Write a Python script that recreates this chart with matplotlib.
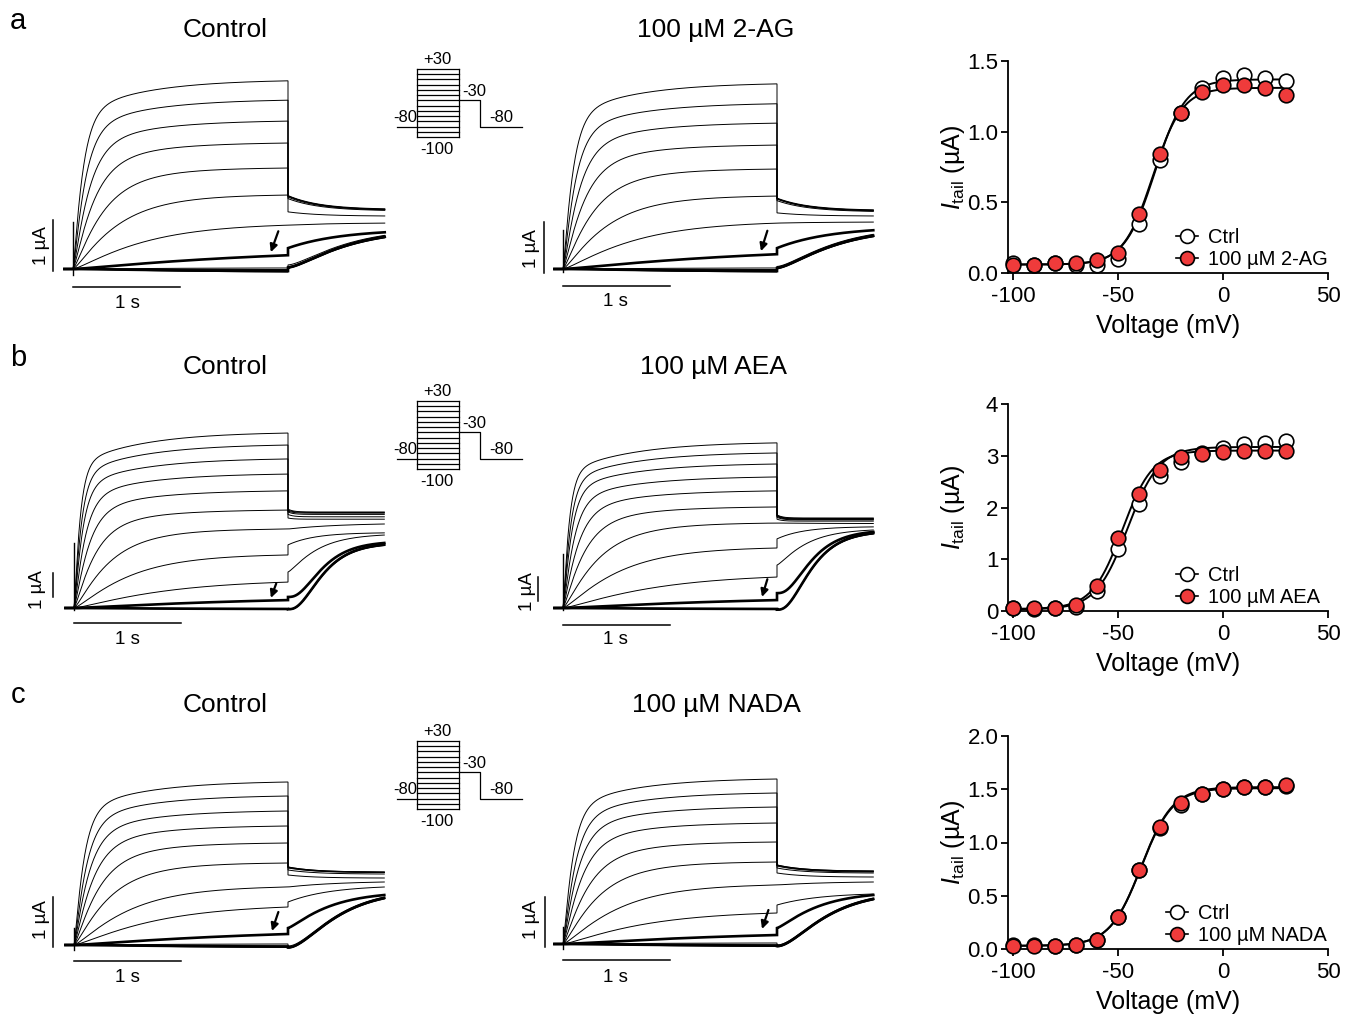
import numpy as np
import matplotlib
matplotlib.use('Agg')
import matplotlib.pyplot as plt
from matplotlib.lines import Line2D

plt.rcParams['font.family'] = ['Liberation Sans', 'DejaVu Sans']
plt.rcParams['mathtext.fontset'] = 'custom'
plt.rcParams['mathtext.rm'] = 'Liberation Sans'
plt.rcParams['mathtext.it'] = 'Liberation Sans:italic'
plt.rcParams['axes.unicode_minus'] = False

# ---------------------------------------------------------------- data
VOLT = [-100, -90, -80, -70, -60, -50, -40, -30, -20, -10, 0, 10, 20, 30]
STEP_MV = [30, 20, 10, 0, -10, -20, -30, -40, -50, -60, -70, -80, -90, -100]

# I-V (tail current, uA)
A_CTRL = [0.07, 0.06, 0.07, 0.06, 0.06, 0.10, 0.35, 0.80, 1.13, 1.31, 1.38, 1.40, 1.38, 1.36]
A_DRUG = [0.06, 0.06, 0.07, 0.07, 0.09, 0.14, 0.42, 0.84, 1.13, 1.28, 1.33, 1.33, 1.31, 1.26]
B_CTRL = [0.05, 0.04, 0.05, 0.08, 0.38, 1.20, 2.07, 2.60, 2.87, 3.05, 3.15, 3.22, 3.25, 3.28]
B_DRUG = [0.06, 0.05, 0.06, 0.12, 0.49, 1.41, 2.27, 2.73, 2.97, 3.04, 3.08, 3.10, 3.10, 3.10]
C_CTRL = [0.04, 0.04, 0.03, 0.04, 0.08, 0.30, 0.74, 1.14, 1.35, 1.46, 1.50, 1.52, 1.52, 1.53]
C_DRUG = [0.03, 0.03, 0.03, 0.04, 0.08, 0.30, 0.74, 1.15, 1.37, 1.46, 1.50, 1.52, 1.52, 1.54]

# Boltzmann fits: Imin, Imax, V1/2, k
A_CTRL_FIT = [0.06, 1.37, -32.5, 7.2]
A_DRUG_FIT = [0.06, 1.31, -33.5, 7.0]
B_CTRL_FIT = [0.03, 3.17, -45.5, 7.5]
B_DRUG_FIT = [0.04, 3.10, -48.0, 7.2]
C_CTRL_FIT = [0.03, 1.51, -39.0, 7.5]
C_DRUG_FIT = [0.03, 1.52, -39.0, 7.5]

# Current traces (order: +30 ... -100 mV), uA
A_CTRL_PLATEAU = [3.69, 3.31, 2.90, 2.47, 1.98, 1.45, 0.86, 0.27, 0.02, -0.01, -0.03, -0.04, -0.05, -0.06]
A_CTRL_TAIL0 = [1.41, 1.43, 1.44, 1.43, 1.38, 1.12, 0.86, 0.41, 0.08, 0.05, 0.04, 0.03, 0.02, 0.02]
A_CTRL_TAIL1 = [1.16, 1.17, 1.18, 1.17, 1.15, 1.04, 0.90, 0.72, 0.66, 0.65, 0.64, 0.63, 0.62, 0.61]
A_DRUG_PLATEAU = [3.63, 3.24, 2.86, 2.43, 1.96, 1.43, 0.90, 0.29, 0.02, -0.01, -0.03, -0.04, -0.05, -0.06]
A_DRUG_TAIL0 = [1.37, 1.38, 1.39, 1.38, 1.34, 1.10, 0.90, 0.41, 0.05, 0.04, 0.03, 0.02, 0.01, 0.01]
A_DRUG_TAIL1 = [1.14, 1.15, 1.16, 1.15, 1.13, 1.04, 0.92, 0.76, 0.68, 0.67, 0.66, 0.65, 0.64, 0.63]
A_TAU_ACT = [0.08, 0.10, 0.13, 0.17, 0.24, 0.35, 0.60, 2.0, 1.0, 1.0, 1.0, 1.0, 1.0, 1.0]
A_TAU_TAIL = [0.30, 0.30, 0.30, 0.30, 0.30, 0.30, 0.50, 0.50, 0.45, 0.45, 0.45, 0.45, 0.45, 0.45]
A_P_TAIL = [1, 1, 1, 1, 1, 1, 1, 1, 1.6, 1.6, 1.6, 1.6, 1.6, 1.6]

B_CTRL_PLATEAU = [7.29, 6.79, 6.21, 5.58, 4.88, 4.08, 3.29, 2.21, 1.08, 0.33, -0.02, -0.04, -0.05, -0.06]
B_CTRL_TAIL0 = [4.12, 4.08, 4.04, 4.00, 3.90, 3.75, 3.29, 2.63, 1.50, 0.46, -0.04, -0.05, -0.06, -0.07]
B_CTRL_TAIL1 = [4.00, 3.98, 3.95, 3.90, 3.80, 3.70, 3.50, 3.13, 3.04, 2.71, 2.66, 2.64, 2.62, 2.60]
B_DRUG_PLATEAU = [6.88, 6.46, 6.00, 5.46, 4.88, 4.21, 3.54, 2.50, 1.29, 0.33, -0.02, -0.04, -0.05, -0.06]
B_DRUG_TAIL0 = [3.88, 3.86, 3.84, 3.82, 3.78, 3.70, 3.54, 2.88, 1.79, 0.62, -0.06, -0.07, -0.08, -0.08]
B_DRUG_TAIL1 = [3.75, 3.73, 3.71, 3.69, 3.67, 3.62, 3.52, 3.38, 3.25, 3.17, 3.13, 3.12, 3.10, 3.08]
B_TAU_ACT = [0.05, 0.06, 0.07, 0.09, 0.12, 0.17, 0.28, 0.45, 0.80, 2.0, 1.0, 1.0, 1.0, 1.0]
B_TAU_TAIL = [0.05, 0.05, 0.05, 0.05, 0.05, 0.05, 0.50, 0.25, 0.25, 0.20, 0.20, 0.20, 0.20, 0.20]
B_P_TAIL = [1, 1, 1, 1, 1, 1, 1, 1, 1.3, 3, 3, 3, 3, 3]

C_CTRL_PLATEAU = [3.26, 2.98, 2.68, 2.38, 2.04, 1.64, 1.16, 0.76, 0.22, 0.02, -0.02, -0.03, -0.04, -0.05]
C_CTRL_TAIL0 = [1.56, 1.56, 1.55, 1.54, 1.50, 1.40, 1.16, 0.86, 0.34, -0.02, -0.04, -0.05, -0.06, -0.06]
C_CTRL_TAIL1 = [1.46, 1.46, 1.45, 1.45, 1.42, 1.34, 1.26, 1.16, 1.00, 0.96, 0.95, 0.94, 0.93, 0.92]
C_DRUG_PLATEAU = [3.30, 3.02, 2.74, 2.42, 2.04, 1.64, 1.18, 0.62, 0.18, 0.02, -0.02, -0.03, -0.04, -0.05]
C_DRUG_TAIL0 = [1.58, 1.58, 1.57, 1.56, 1.52, 1.42, 1.18, 0.78, 0.32, -0.02, -0.03, -0.04, -0.05, -0.06]
C_DRUG_TAIL1 = [1.46, 1.46, 1.45, 1.44, 1.42, 1.34, 1.24, 1.00, 0.98, 0.92, 0.91, 0.90, 0.89, 0.88]
C_TAU_ACT = [0.08, 0.10, 0.12, 0.15, 0.20, 0.28, 0.45, 0.70, 2.0, 1.0, 1.0, 1.0, 1.0, 1.0]
C_TAU_TAIL = [0.25, 0.25, 0.25, 0.25, 0.25, 0.25, 0.50, 0.40, 0.35, 0.35, 0.35, 0.35, 0.35, 0.35]
C_P_TAIL = [1, 1, 1, 1, 1, 1, 1, 1, 1.3, 2, 2, 2, 2, 2]

# capacitive transient at step onset (low, high), uA
A_CTRL_CAP = [-0.12, 0.92]
A_DRUG_CAP = [-0.06, 0.76]
B_CTRL_CAP = [-0.10, 2.70]
B_DRUG_CAP = [-0.10, 2.25]
C_CTRL_CAP = [-0.10, 0.34]
C_DRUG_CAP = [-0.10, 0.34]

# protocol (mV)
PROTO_HOLD = -80
PROTO_TAIL = -30
PROTO_STEPS = list(range(-100, 31, 10))

T_STEP = 2.0
T_TAILDUR = 0.9
T_PRE = 0.08

RED = '#ef3b3b'
W, H = 1354, 1015
fig = plt.figure(figsize=(W / 100, H / 100), dpi=100)


def px_axes(x0, y0, x1, y1):
    return fig.add_axes([x0 / W, 1 - y1 / H, (x1 - x0) / W, (y1 - y0) / H])


def ftext(px, py, s, **kw):
    fig.text(px / W, 1 - py / H, s, **kw)


def trace_axes(ox, oy, sx, sy, box):
    x0, y0, x1, y1 = box
    ax = px_axes(x0, y0, x1, y1)
    ax.set_xlim((x0 - ox) / sx, (x1 - ox) / sx)
    ax.set_ylim((oy - y1) / sy, (oy - y0) / sy)
    ax.axis('off')
    return ax


def draw_traces(ax, plateau, tail0, tail1, tau_act, tau_tail, p_tail, cap, thick):
    t1 = np.linspace(0, T_STEP, 500)
    s = np.linspace(0, T_TAILDUR, 250)
    for i in range(len(plateau)):
        g = 1 - 0.85 * np.exp(-t1 / tau_act[i]) - 0.15 * np.exp(-t1 / 0.6)
        g = np.clip(g, 0, None) ** 1.3
        g = g / g[-1]
        step = plateau[i] * g
        if tail1[i] <= tail0[i]:
            e = np.exp(-s / tau_tail[i])
            h = (e - e[-1]) / (1 - e[-1])
            tail = tail1[i] + (tail0[i] - tail1[i]) * h
        else:
            h = (1 - np.exp(-s / tau_tail[i])) ** p_tail[i]
            h = h / h[-1]
            tail = tail0[i] + (tail1[i] - tail0[i]) * h
        t = np.concatenate([[-T_PRE, 0], t1, T_STEP + s])
        y = np.concatenate([[0, 0], step, tail])
        ax.plot(t, y, color='k', lw=1.9 if i in thick else 0.7, solid_joinstyle='miter')
    ax.plot([0, 0], cap, color='k', lw=1.0)


def scale_bars(ax, vx, vy0, hy):
    ax.plot([vx, vx], [vy0, vy0 + 1], color='k', lw=1.1, clip_on=False)
    ax.plot([0, 1], [hy, hy], color='k', lw=1.1, clip_on=False)


def arrow(ax, head, tail):
    ax.annotate('', xy=head, xytext=tail,
                arrowprops=dict(arrowstyle='-|>', color='k', lw=1.6, mutation_scale=11,
                                shrinkA=0, shrinkB=0))


def protocol(box_bottom):
    sxp, syp = 100.0, 0.523
    ox = 417
    x0, x1 = 380, 540
    y0, y1 = box_bottom - 90, box_bottom + 25
    ax = px_axes(x0, y0, x1, y1)
    ax.set_xlim((x0 - ox) / sxp, (x1 - ox) / sxp)
    ax.set_ylim(-100 + (box_bottom - y1) / syp, -100 + (box_bottom - y0) / syp)
    ax.axis('off')
    lw = 0.9
    for v in PROTO_STEPS:
        ax.plot([0, 0.42], [v, v], color='k', lw=lw)
    ax.plot([0, 0], [PROTO_STEPS[0], PROTO_STEPS[-1]], color='k', lw=lw)
    ax.plot([0.42, 0.42], [PROTO_STEPS[0], PROTO_STEPS[-1]], color='k', lw=lw)
    ax.plot([-0.2, 0], [PROTO_HOLD, PROTO_HOLD], color='k', lw=lw)
    ax.plot([0.42, 0.63, 0.63, 1.05], [PROTO_TAIL, PROTO_TAIL, PROTO_HOLD, PROTO_HOLD],
            color='k', lw=lw)
    off = box_bottom - 137
    fs = 12
    ftext(437, 60 + off, '+30', fontsize=fs, ha='center', va='center')
    ftext(437, 150 + off, '-100', fontsize=fs, ha='center', va='center')
    ftext(405, 118 + off, '-80', fontsize=fs, ha='center', va='center')
    ftext(474, 92 + off, '-30', fontsize=fs, ha='center', va='center')
    ftext(501, 118 + off, '-80', fontsize=fs, ha='center', va='center')


def boltz(v, imin, imax, v12, k):
    return imin + (imax - imin) / (1 + np.exp((v12 - v) / k))


def iv_panel(top, bottom, ymax, yticks, ylabels, ctrl, drug, fit_c, fit_d, drug_label, leg_anchor):
    ax = px_axes(1008, top, 1328, bottom)
    ax.set_xlim(-102.5, 50)
    ax.set_ylim(0, ymax)
    vf = np.linspace(-100, 30, 300)
    ax.plot(vf, boltz(vf, *fit_c), color='k', lw=1.4, zorder=2)
    ax.plot(vf, boltz(vf, *fit_d), color='k', lw=1.4, zorder=2)
    ax.plot(VOLT, ctrl, 'o', mfc='white', mec='k', ms=10.5, mew=1.2, zorder=3, clip_on=False)
    ax.plot(VOLT, drug, 'o', mfc=RED, mec='k', ms=10.5, mew=1.2, zorder=4, clip_on=False)
    for sp in ['top', 'right']:
        ax.spines[sp].set_visible(False)
    for sp in ['left', 'bottom']:
        ax.spines[sp].set_linewidth(1.3)
    ax.set_xticks([-100, -50, 0, 50])
    ax.set_xticklabels(['-100', '-50', '0', '50'])
    ax.set_yticks(yticks)
    ax.set_yticklabels(ylabels)
    ax.tick_params(direction='out', length=5, width=1.3, labelsize=16)
    ax.tick_params(axis='y', pad=2)
    ax.tick_params(axis='x', pad=4)
    ax.set_xlabel('Voltage (mV)', fontsize=18, va='center')
    ax.xaxis.set_label_coords(0.5, -(53.0 / (bottom - top)))
    ax.set_ylabel(r'$I_{\mathrm{tail}}$ (µA)', fontsize=18, va='center')
    ax.yaxis.set_label_coords(-55.0 / 320, 0.5)
    hc = Line2D([], [], color='k', lw=1.2, marker='o', mfc='white', mec='k', ms=10, mew=1.2)
    hd = Line2D([], [], color='k', lw=1.2, marker='o', mfc=RED, mec='k', ms=10, mew=1.2)
    ax.legend([hc, hd], ['Ctrl', drug_label], loc='lower right', bbox_to_anchor=leg_anchor,
              frameon=False, fontsize=14.5, handlelength=1.1, handletextpad=0.5,
              labelspacing=0.12, borderpad=0, borderaxespad=0)
    return ax


# ---------------------------------------------------------------- row a
ax = trace_axes(73, 269, 107.5, 51, (20, 50, 400, 320))
draw_traces(ax, A_CTRL_PLATEAU, A_CTRL_TAIL0, A_CTRL_TAIL1, A_TAU_ACT, A_TAU_TAIL, A_P_TAIL,
            A_CTRL_CAP, thick=[7, 11])
scale_bars(ax, -0.19, -0.04, -0.35)
arrow(ax, (1.84, 0.33), (1.91, 0.74))
ax = trace_axes(563, 269, 107, 51, (500, 50, 900, 320))
draw_traces(ax, A_DRUG_PLATEAU, A_DRUG_TAIL0, A_DRUG_TAIL1, A_TAU_ACT, A_TAU_TAIL, A_P_TAIL,
            A_DRUG_CAP, thick=[7, 11])
scale_bars(ax, -0.18, -0.08, -0.33)
arrow(ax, (1.85, 0.35), (1.91, 0.75))

# ---------------------------------------------------------------- row b
ax = trace_axes(74, 608, 107, 24, (20, 390, 400, 660))
draw_traces(ax, B_CTRL_PLATEAU, B_CTRL_TAIL0, B_CTRL_TAIL1, B_TAU_ACT, B_TAU_TAIL, B_P_TAIL,
            B_CTRL_CAP, thick=[9, 11])
scale_bars(ax, -0.20, 0.46, -0.63)
arrow(ax, (1.84, 0.42), (1.89, 1.02))
ax = trace_axes(563, 608, 107, 24, (500, 390, 900, 660))
draw_traces(ax, B_DRUG_PLATEAU, B_DRUG_TAIL0, B_DRUG_TAIL1, B_TAU_ACT, B_TAU_TAIL, B_P_TAIL,
            B_DRUG_CAP, thick=[9, 11])
scale_bars(ax, -0.23, 0.29, -0.71)
arrow(ax, (1.86, 0.46), (1.91, 1.2))

# ---------------------------------------------------------------- row c
ax = trace_axes(74, 945, 107, 50, (20, 725, 400, 1000))
draw_traces(ax, C_CTRL_PLATEAU, C_CTRL_TAIL0, C_CTRL_TAIL1, C_TAU_ACT, C_TAU_TAIL, C_P_TAIL,
            C_CTRL_CAP, thick=[8, 11])
scale_bars(ax, -0.20, -0.04, -0.32)
arrow(ax, (1.85, 0.28), (1.91, 0.66))
ax = trace_axes(563, 944, 107, 50, (500, 725, 900, 1000))
draw_traces(ax, C_DRUG_PLATEAU, C_DRUG_TAIL0, C_DRUG_TAIL1, C_TAU_ACT, C_TAU_TAIL, C_P_TAIL,
            C_DRUG_CAP, thick=[8, 11])
scale_bars(ax, -0.17, -0.06, -0.32)
arrow(ax, (1.86, 0.30), (1.92, 0.68))

# protocols
for bb in [137, 469, 809]:
    protocol(bb)

# I-V panels
iv_panel(61, 273, 1.5, [0, 0.5, 1.0, 1.5], ['0.0', '0.5', '1.0', '1.5'],
         A_CTRL, A_DRUG, A_CTRL_FIT, A_DRUG_FIT, '100 µM 2-AG', (1.0, 0.02))
iv_panel(404, 611, 4, [0, 1, 2, 3, 4], ['0', '1', '2', '3', '4'],
         B_CTRL, B_DRUG, B_CTRL_FIT, B_DRUG_FIT, '100 µM AEA', (0.975, 0.02))
iv_panel(736, 949, 2.0, [0, 0.5, 1.0, 1.5, 2.0], ['0.0', '0.5', '1.0', '1.5', '2.0'],
         C_CTRL, C_DRUG, C_CTRL_FIT, C_DRUG_FIT, '100 µM NADA', (0.997, 0.02))

# texts
for lab, py in [('a', 21), ('b', 358), ('c', 695)]:
    ftext(18, py, lab, fontsize=21, ha='center', va='center')
ftext(225, 30, 'Control', fontsize=19, ha='center', va='center')
ftext(716, 30, '100 µM 2-AG', fontsize=19, ha='center', va='center')
ftext(225, 367, 'Control', fontsize=19, ha='center', va='center')
ftext(714, 367, '100 µM AEA', fontsize=19, ha='center', va='center')
ftext(225, 705, 'Control', fontsize=19, ha='center', va='center')
ftext(716, 705, '100 µM NADA', fontsize=19, ha='center', va='center')

# scale bar labels
for px, py in [(127, 303), (615, 302), (127, 640), (615, 640), (127, 978), (615, 978)]:
    ftext(px, py, '1 s', fontsize=13.5, ha='center', va='center')
for px, py in [(41, 246), (531, 249), (38, 590), (527, 592), (42, 920), (531, 920)]:
    ftext(px, py, '1 µA', fontsize=13.5, ha='center', va='center', rotation=90)

fig.savefig('out.png', dpi=100)
